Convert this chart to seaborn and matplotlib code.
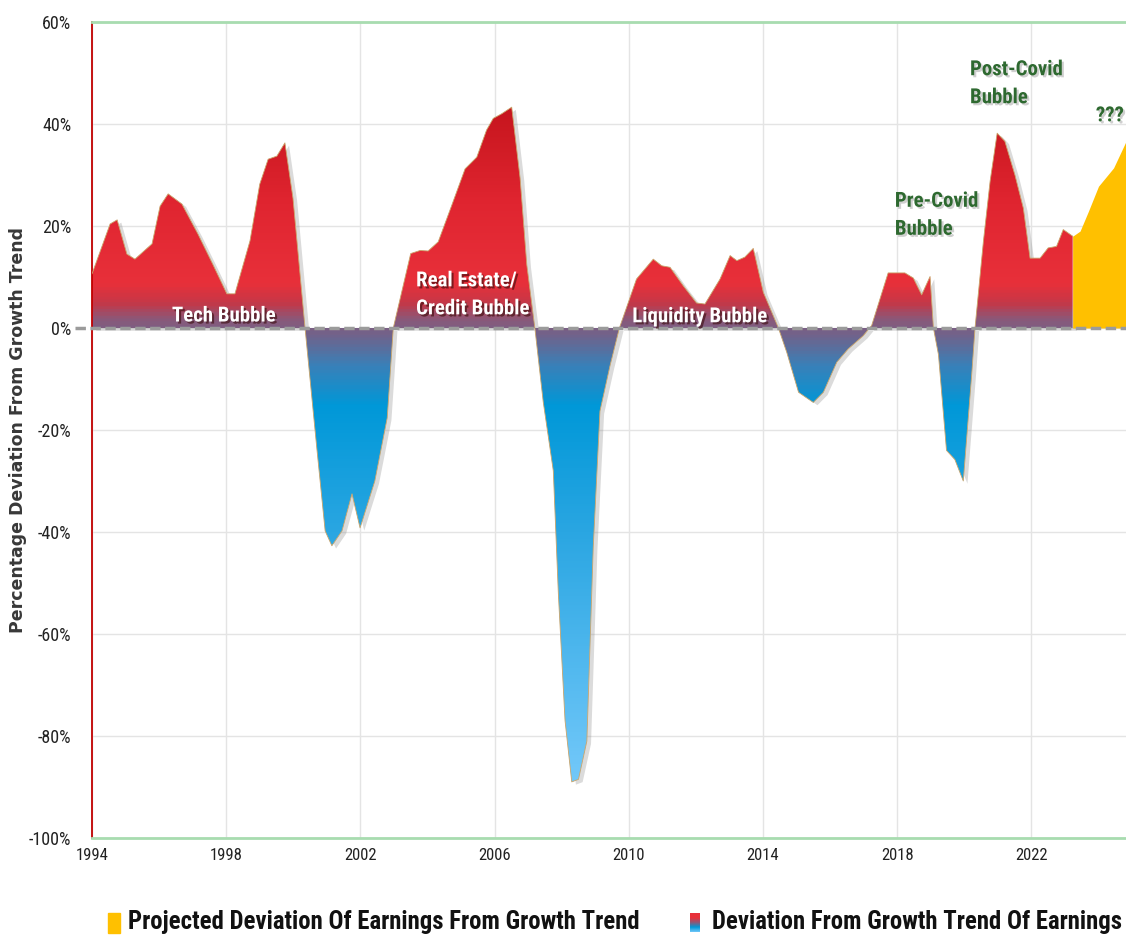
import numpy as np
import pandas as pd
import seaborn as sns
import matplotlib.pyplot as plt
import matplotlib.patheffects as pe
from matplotlib import font_manager as fm
from matplotlib.colors import LinearSegmentedColormap
from matplotlib.patches import Rectangle

# Deviation of earnings from growth trend (%)
hist_years = [1994.0, 1994.54, 1994.75, 1995.04, 1995.28, 1995.79, 1996.03, 1996.27, 1996.68, 1997.16,
              1997.6, 1998.02, 1998.26, 1998.71, 1999.0, 1999.25, 1999.51, 1999.75, 1999.99, 2000.35,
              2000.7, 2000.95, 2001.15, 2001.45, 2001.75, 2001.99, 2002.43, 2002.8, 2002.98, 2003.5,
              2003.78, 2004.02, 2004.32, 2004.72, 2005.12, 2005.47, 2005.76, 2005.96, 2006.21, 2006.51,
              2006.76, 2006.96, 2007.2, 2007.45, 2007.75, 2007.9, 2008.1, 2008.3, 2008.5, 2008.75,
              2008.94, 2009.14, 2009.44, 2009.72, 2010.23, 2010.73, 2010.98, 2011.23, 2011.62, 2012.02,
              2012.27, 2012.72, 2013.02, 2013.22, 2013.46, 2013.71, 2014.01, 2014.46, 2014.71, 2015.06,
              2015.5, 2015.8, 2016.2, 2016.54, 2016.99, 2017.24, 2017.73, 2018.23, 2018.48, 2018.73,
              2018.98, 2019.08, 2019.23, 2019.47, 2019.72, 2019.97, 2020.22, 2020.32, 2020.57, 2020.77,
              2020.98, 2021.21, 2021.51, 2021.76, 2021.96, 2022.26, 2022.5, 2022.75, 2022.95, 2023.23]
hist_dev = [10.6, 20.4, 21.2, 14.5, 13.5, 16.5, 23.9, 26.3, 24.3, 18.4,
            12.5, 6.7, 6.7, 17.1, 28.2, 33.1, 33.7, 36.3, 25.5, 0.0,
            -23.5, -39.8, -42.7, -39.8, -32.5, -39.2, -30.0, -17.6, 0.0, 14.6,
            15.2, 15.1, 16.9, 24.0, 31.2, 33.5, 38.8, 41.1, 42.0, 43.3,
            29.4, 12.4, 0.0, -14.5, -28.0, -52.0, -77.0, -89.0, -88.5, -81.0,
            -43.0, -16.3, -7.4, 0.0, 9.6, 13.5, 12.2, 11.9, 8.3, 4.9,
            4.7, 9.6, 14.2, 13.2, 13.9, 15.6, 7.0, 0.0, -4.8, -12.6,
            -14.6, -12.6, -6.7, -4.1, -1.5, 0.5, 10.8, 10.8, 9.8, 6.5,
            10.1, 0.0, -5.2, -24.0, -25.8, -30.0, -9.2, 0.0, 17.0, 28.8,
            38.2, 36.6, 30.0, 23.5, 13.7, 13.7, 15.7, 16.0, 19.3, 18.0]

# projected deviation (yellow)
proj_years = [2023.23, 2023.45, 2023.7, 2024.0, 2024.45, 2024.82]
proj_dev = [18.0, 19.0, 22.9, 27.8, 31.4, 36.6]

x_ticks = [1994, 1998, 2002, 2006, 2010, 2014, 2018, 2022]
y_ticks = [-100, -80, -60, -40, -20, 0, 20, 40, 60]

df = pd.DataFrame({'year': hist_years, 'deviation': hist_dev})

sns.set_style('white')

# pick a narrow font if one is installed
installed = {f.name for f in fm.fontManager.ttflist}
narrow_font = 'DejaVu Sans'
for cand in ['Roboto Condensed', 'Liberation Sans Narrow', 'Open Sans Condensed', 'Noto Sans Condensed',
             'Roboto', 'Liberation Sans']:
    if cand in installed:
        narrow_font = cand
        break
plt.rcParams['font.family'] = [narrow_font, 'DejaVu Sans']
plt.rcParams['font.stretch'] = 'condensed'

# red above zero -> purple at zero -> blue below
grad_cmap = LinearSegmentedColormap.from_list('dev', [
    (0.0, '#7ccdfb'), (0.09, '#6ec6f8'), (0.375, '#2aa6e2'), (0.53, '#0098d8'),
    (0.58, '#3a80b8'), (0.612, '#6a6690'), (0.637, '#8c5878'), (0.656, '#c43848'),
    (0.68, '#e8303a'), (0.78, '#e02530'), (0.906, '#c4141c'), (1.0, '#b81018')])

fig = plt.figure(figsize=(11.26, 9.4), dpi=100)
ax = fig.add_axes([92 / 1126, 102 / 940, 1034 / 1126, 816 / 940])

area = ax.fill_between(df['year'], df['deviation'], 0, color='white', lw=0, zorder=1,
                       path_effects=[pe.SimplePatchShadow(offset=(3, -2), shadow_rgbFace='#888888', alpha=0.3),
                                     pe.Normal()])
grad = np.linspace(-100, 60, 600).reshape(-1, 1)
im = ax.imshow(grad, cmap=grad_cmap, vmin=-100, vmax=60, origin='lower',
               extent=[1994, 2024.82, -100, 60], aspect='auto', zorder=2)
im.set_clip_path(area.get_paths()[0], transform=ax.transData)
sns.lineplot(data=df, x='year', y='deviation', color='#c9a46a', lw=0.6, ax=ax, zorder=3, legend=False)

ax.fill_between(proj_years, proj_dev, 0, color='#ffc000', lw=0, zorder=2)

ax.axhline(0, xmin=-0.016, color='#9b9b9b', lw=2.5, ls=(0, (3, 1.3)), zorder=4, clip_on=False)

ax.set_xlim(1994, 2024.82)
ax.set_ylim(-100, 60)
ax.set_xticks(x_ticks)
ax.set_xticklabels([str(x) for x in x_ticks])
ax.set_yticks(y_ticks)
ax.set_yticklabels([f'{y}%' for y in y_ticks])
ax.tick_params(axis='x', length=0, pad=7, labelsize=12, labelcolor='#222222')
ax.tick_params(axis='y', length=0, pad=15, labelsize=13, labelcolor='#222222')
ax.grid(True, color='#e4e4e4', lw=1)
ax.set_axisbelow(True)
ax.set_xlabel('')

ax.spines['right'].set_visible(False)
ax.spines['left'].set_color('#c00000')
ax.spines['left'].set_linewidth(1.3)
for s in ['top', 'bottom']:
    ax.spines[s].set_color('#a8dcb0')
    ax.spines[s].set_linewidth(2)

ax.set_ylabel('Percentage Deviation From Growth Trend', fontsize=12.5, fontweight='bold',
              family='DejaVu Sans', fontstretch='normal', color='#383838')
ax.yaxis.set_label_coords(-0.063, 0.5)

# annotations
white_fx = [pe.withSimplePatchShadow(offset=(1.5, -1.5), shadow_rgbFace='#3a0a0a', alpha=0.6)]
green_fx = [pe.withSimplePatchShadow(offset=(1.5, -1.5), shadow_rgbFace='#888888', alpha=0.4)]
lab_kw = dict(fontsize=15, fontweight='bold', zorder=6)
ax.text(1997.93, 2.35, 'Tech Bubble', color='white', ha='center', va='center', path_effects=white_fx, **lab_kw)
ax.text(2003.66, 6.5, 'Real Estate/\nCredit Bubble', color='white', ha='left', va='center',
        linespacing=1.6, path_effects=white_fx, **lab_kw)
ax.text(2012.12, 2.2, 'Liquidity Bubble', color='white', ha='center', va='center', path_effects=white_fx, **lab_kw)
ax.text(2017.93, 22.1, 'Pre-Covid\nBubble', color='#2e6930', ha='left', va='center',
        linespacing=1.6, path_effects=green_fx, **lab_kw)
ax.text(2020.17, 47.9, 'Post-Covid\nBubble', color='#2e6930', ha='left', va='center',
        linespacing=1.6, path_effects=green_fx, **lab_kw)
ax.text(2024.76, 41.6, '???', color='#2e6930', ha='right', va='center', path_effects=green_fx, **lab_kw)

# legend drawn by hand at the bottom
fig.patches.append(Rectangle((108 / 1126, 7 / 940), 12 / 1126, 20 / 940, color='#ffc000',
                             transform=fig.transFigure, figure=fig))
fig.text(128 / 1126, 18 / 940, 'Projected Deviation Of Earnings From Growth Trend',
         fontsize=17.8, fontweight='bold', color='#111111', va='center', ha='left')
lax = fig.add_axes([690 / 1126, 8 / 940, 10 / 1126, 19 / 940])
lax.imshow(np.linspace(0, 1, 50).reshape(-1, 1), cmap=LinearSegmentedColormap.from_list(
    'leg', ['#e8303a', '#e8303a', '#8c5878', '#0098d8', '#6ec6f8']), origin='upper', aspect='auto')
lax.axis('off')
fig.text(712 / 1126, 18 / 940, 'Deviation From Growth Trend Of Earnings',
         fontsize=17.8, fontweight='bold', color='#111111', va='center', ha='left')

fig.savefig('out.png', dpi=100)
